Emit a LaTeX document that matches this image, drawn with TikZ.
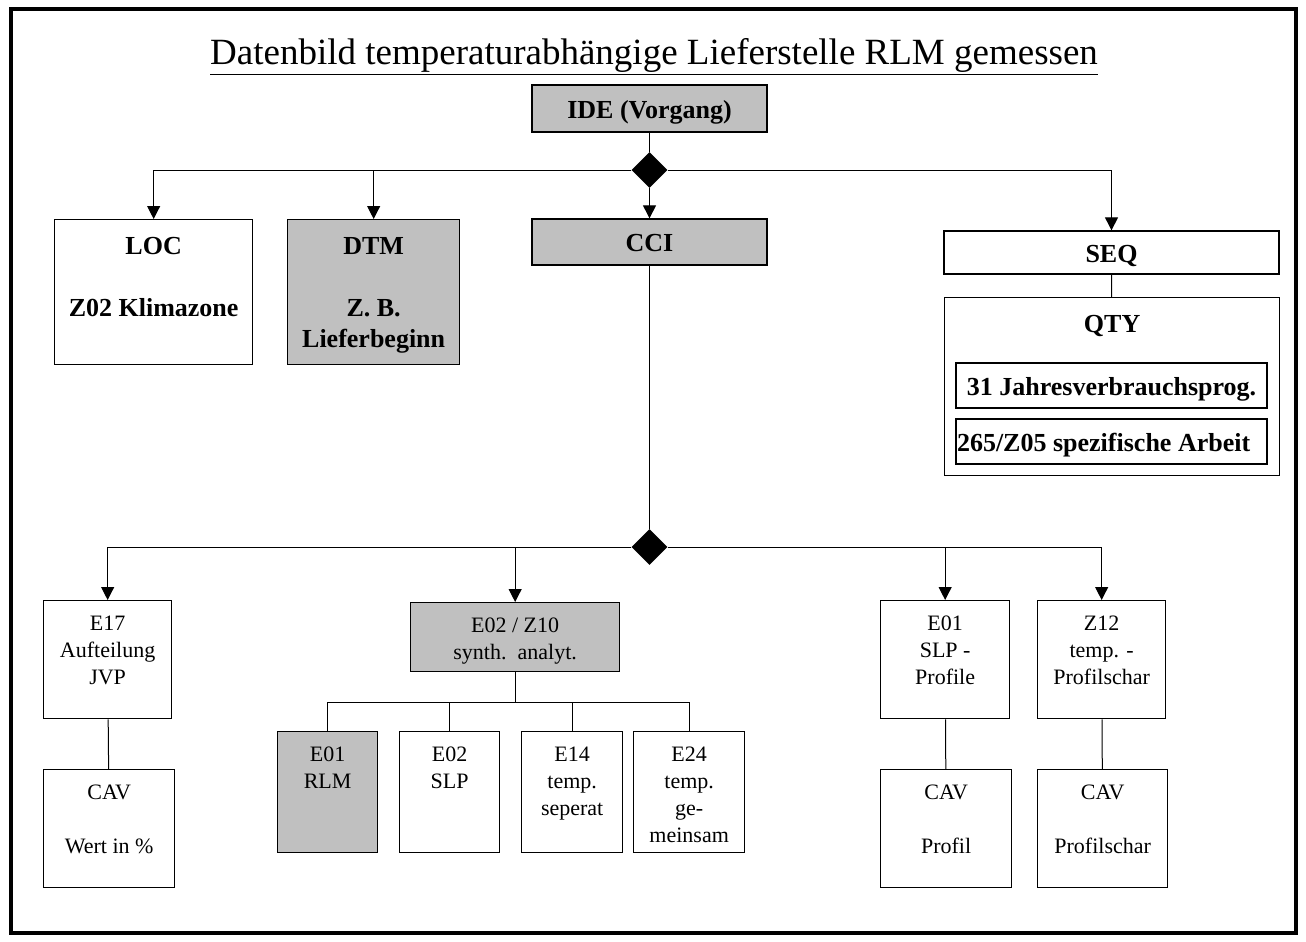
\documentclass[tikz,border=0pt]{standalone}
\usepackage{fontspec}
\setmainfont{Liberation Serif}
\usetikzlibrary{shapes.geometric, arrows.meta}
\definecolor{boxgrey}{HTML}{C0C0C0}
\tikzset{
  box/.style={draw, line width=1.3pt, inner sep=0pt},
  cell/.style={box, anchor=north west, text width=#1, align=flush center},
  single/.style={box, text height=22pt, text depth=2.4pt},
  greyfill/.style={fill=boxgrey},
  bold/.style={font=\fontsize{26}{31}\selectfont\bfseries},
  plain/.style={font=\fontsize{22}{27}\selectfont},
  link/.style={line width=1pt},
  arr/.style={link, -{Triangle[length=13pt,width=13pt]}},
  gate/.style={diamond, aspect=1, fill=black, inner sep=0pt, minimum size=36pt},
}

\begin{document}
\begin{tikzpicture}[x=1pt, y=-1pt]
\useasboundingbox (0,0) rectangle (1306,942);
\draw[line width=4pt] (11,9) rectangle (1296,933);
% Titel
\node[anchor=base, font=\fontsize{37}{44}\selectfont] (title) at (654,65) {\underline{Datenbild temperaturabhängige Lieferstelle RLM gemessen}};

% obere Ebene
\node[single, greyfill, bold, minimum width=235pt, minimum height=47pt] (ide) at (649.5,108.5) {IDE (Vorgang)};
\node[gate] (d1) at (649.5,170) {};
\node[single, greyfill, bold, minimum width=235pt, minimum height=46pt] (cci) at (649.5,242) {CCI};
\node[cell=198pt, bold, text height=35pt, text depth=110pt] (loc) at (54,219) {LOC\\[31pt]Z02 Klimazone};
\node[cell=172pt, greyfill, bold, text height=35pt, text depth=110pt] (dtm) at (287,219) {DTM\\[31pt]Z. B.\\Lieferbeginn};
\node[single, bold, minimum width=335pt, minimum height=43pt] (seq) at (1111.5,252.5) {SEQ};
\node[cell=335pt, bold, text height=35pt, text depth=143pt] (qty) at (944,297) {QTY};
\node[single, bold, minimum width=311pt, minimum height=45pt] (jvp) at (1111.5,385.5) {31 Jahresverbrauchsprog.};
\node[single, bold, text width=309pt, align=flush left, inner xsep=1pt, minimum height=45pt] (arb) at (1111.5,441.5) {265/Z05 spezifische Arbeit};

\draw[link] (ide) -- (d1);
\draw[arr] (d1) -- (cci);
\draw[arr] (d1.west) -| (loc.north);
\draw[arr] (d1.west) -| (dtm.north);
\draw[arr] (d1.east) -| (seq.north);
\draw[link] (seq) -- (qty);

% untere Ebene
\node[gate] (d2) at (649.5,547) {};
\node[cell=128pt, plain, text height=30pt, text depth=88pt] (e17) at (43,600) {E17\\Aufteilung\\JVP};
\node[cell=131pt, plain, text height=30pt, text depth=88pt] (cavw) at (43,769) {CAV\\[27pt]Wert in \%};
\node[cell=209pt, greyfill, plain, text height=30pt, text depth=39pt] (ez) at (410,602) {E02 / Z10\\synth.\ \ analyt.};
\node[cell=100pt, greyfill, plain, text height=30pt, text depth=91pt] (rlm) at (277,731) {E01\\RLM};
\node[cell=100pt, plain, text height=30pt, text depth=91pt] (slp) at (399,731) {E02\\SLP};
\node[cell=101pt, plain, text height=30pt, text depth=91pt] (sep) at (521,731) {E14\\temp.\\seperat};
\node[cell=111pt, plain, text height=30pt, text depth=91pt] (gem) at (633,731) {E24\\temp.\\ge-\\meinsam};
\node[cell=129pt, plain, text height=30pt, text depth=88pt] (eslp) at (880,600) {E01\\SLP -\\Profile};
\node[cell=128pt, plain, text height=30pt, text depth=88pt] (z12) at (1037,600) {Z12\\temp. -\\Profilschar};
\node[cell=131pt, plain, text height=30pt, text depth=88pt] (cavp) at (880,769) {CAV\\[27pt]Profil};
\node[cell=130pt, plain, text height=30pt, text depth=88pt] (cavs) at (1037,769) {CAV\\[27pt]Profilschar};

\draw[link] (cci) -- (d2);
\draw[arr] (d2.west) -| (e17.north);
\draw[arr] (d2.west) -| (ez.north);
\draw[arr] (d2.east) -| (eslp.north);
\draw[arr] (d2.east) -| (z12.north);
\draw[link] (e17) -- (cavw);
\draw[link] (eslp) -- (cavp);
\draw[link] (z12) -- (cavs);

% Verzweigung unter E02 / Z10
\coordinate (bar) at ([yshift=-30pt]ez.south);
\draw[link] (ez.south) -- (bar);
\draw[link] (rlm.north) |- (bar) -| (gem.north);
\draw[link] (slp.north) -- (slp.north |- bar);
\draw[link] (sep.north) -- (sep.north |- bar);
\end{tikzpicture}
\end{document}
